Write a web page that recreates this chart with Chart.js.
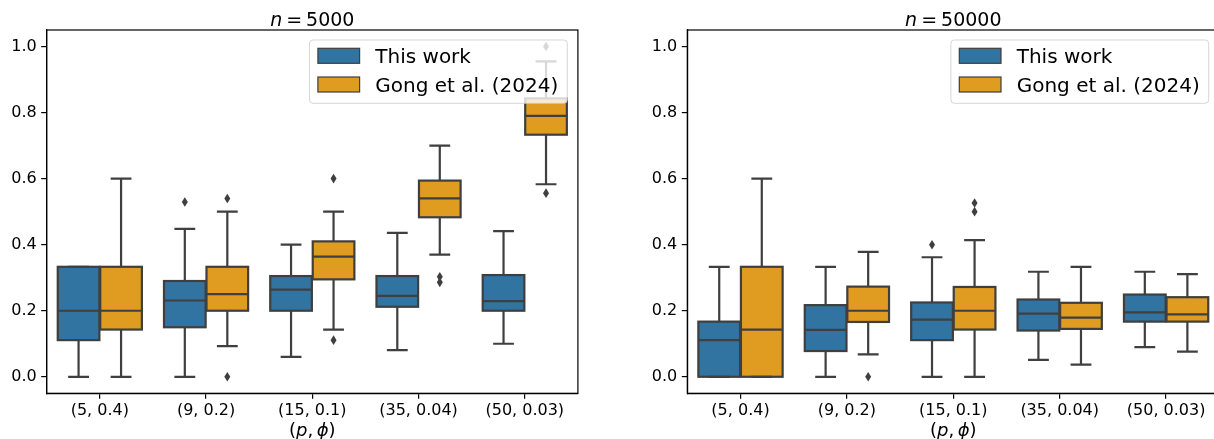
<!DOCTYPE html>
<html>
<head>
<meta charset="utf-8">
<script src="https://cdn.jsdelivr.net/npm/chart.js@4.4.1/dist/chart.umd.min.js"></script>
<style>
  html, body { margin: 0; padding: 0; background: #fff; }
  #page { position: relative; width: 1214px; height: 439px; overflow: hidden;
          font-family: "DejaVu Sans", sans-serif; color: #000; }
  .panel { position: absolute; top: 0; height: 439px; }
  .lbl { position: absolute; white-space: nowrap; transform: translateX(-50%);
         line-height: 1; font-family: "DejaVu Sans", sans-serif; color: #000; }
  .lbl i { font-style: italic; }
</style>
</head>
<body>
<div id="page">
  <div class="panel" style="left:0;width:614px"><canvas id="c5000" width="614" height="439"></canvas></div>
  <div class="panel" style="left:614px;width:620px"><canvas id="c50000" width="620" height="439"></canvas></div>

  <div class="lbl" style="left:312.3px;top:10px;font-size:19px"><i>n</i><span style="margin:0 4px">=</span>5000</div>
  <div class="lbl" style="left:953.3px;top:10px;font-size:19px"><i>n</i><span style="margin:0 4px">=</span>50000</div>
  <div class="lbl" style="left:312.3px;top:421px;font-size:18px">(<i>p</i>,&thinsp;<i>ϕ</i>)</div>
  <div class="lbl" style="left:953.3px;top:421px;font-size:18px">(<i>p</i>,&thinsp;<i>ϕ</i>)</div>
</div>

<script>
// (p, phi) settings on the x axis
const categories = ['(5, 0.4)', '(9, 0.2)', '(15, 0.1)', '(35, 0.04)', '(50, 0.03)'];
const yTicks = [0.0, 0.2, 0.4, 0.6, 0.8, 1.0];
const seriesNames = ['This work', 'Gong et al. (2024)'];

// Box statistics per setting: [lower whisker, Q1, median, Q3, upper whisker]
// n = 5000
const work5000 = [
  [0.000, 0.111, 0.200, 0.333, 0.333],
  [0.000, 0.150, 0.231, 0.290, 0.448],
  [0.060, 0.200, 0.264, 0.305, 0.400],
  [0.081, 0.212, 0.245, 0.305, 0.436],
  [0.100, 0.200, 0.229, 0.308, 0.441]
];
const gong5000 = [
  [0.000, 0.143, 0.200, 0.333, 0.600],
  [0.093, 0.200, 0.250, 0.333, 0.500],
  [0.143, 0.295, 0.364, 0.410, 0.500],
  [0.370, 0.483, 0.540, 0.594, 0.700],
  [0.583, 0.733, 0.790, 0.843, 0.955]
];
const workFliers5000 = [[], [0.529], [], [], []];
const gongFliers5000 = [[], [0.000, 0.540], [0.111, 0.600], [0.286, 0.303], [0.556, 1.000]];

// n = 50000
const work50000 = [
  [0.000, 0.000, 0.111, 0.167, 0.333],
  [0.000, 0.078, 0.142, 0.217, 0.333],
  [0.000, 0.111, 0.173, 0.225, 0.362],
  [0.051, 0.140, 0.191, 0.234, 0.318],
  [0.090, 0.167, 0.195, 0.249, 0.318]
];
const gong50000 = [
  [0.000, 0.000, 0.143, 0.333, 0.600],
  [0.068, 0.166, 0.200, 0.273, 0.378],
  [0.000, 0.143, 0.200, 0.272, 0.414],
  [0.037, 0.145, 0.179, 0.224, 0.333],
  [0.076, 0.167, 0.189, 0.241, 0.311]
];
const workFliers50000 = [[], [], [0.400], [], []];
const gongFliers50000 = [[], [0.000], [0.500, 0.526], [], []];

const COLORS = ['#3274a1', '#df9c20'];
const EDGE = '#3f3f3f';
const FONT = 'DejaVu Sans';
const LINE_W = 2.2;

// Box outlines, whiskers, caps, medians and fliers, placed from each bar element and the y scale
const boxDetails = {
  id: 'boxDetails',
  afterDatasetsDraw(chart) {
    const ctx = chart.ctx, ys = chart.scales.y;
    ctx.save();
    ctx.strokeStyle = EDGE;
    ctx.fillStyle = EDGE;
    ctx.lineWidth = LINE_W;
    ctx.lineCap = 'butt';
    ctx.lineJoin = 'miter';
    chart.data.datasets.forEach((ds, di) => {
      const meta = chart.getDatasetMeta(di);
      meta.data.forEach((bar, i) => {
        const [lo, q1, med, q3, hi] = ds.boxStats[i];
        const cx = bar.x, w = bar.width, cap = w / 4;
        const pLo = ys.getPixelForValue(lo), pQ1 = ys.getPixelForValue(q1);
        const pMed = ys.getPixelForValue(med), pQ3 = ys.getPixelForValue(q3);
        const pHi = ys.getPixelForValue(hi);
        ctx.beginPath();
        ctx.moveTo(cx, pQ1); ctx.lineTo(cx, pLo);
        ctx.moveTo(cx, pQ3); ctx.lineTo(cx, pHi);
        ctx.moveTo(cx - cap, pLo); ctx.lineTo(cx + cap, pLo);
        ctx.moveTo(cx - cap, pHi); ctx.lineTo(cx + cap, pHi);
        ctx.stroke();
        ctx.strokeRect(cx - w / 2, pQ3, w, pQ1 - pQ3);
        ctx.beginPath();
        ctx.moveTo(cx - w / 2, pMed); ctx.lineTo(cx + w / 2, pMed);
        ctx.stroke();
        ds.fliers[i].forEach(v => {
          const py = ys.getPixelForValue(v);
          ctx.beginPath();
          ctx.moveTo(cx, py - 4.8);
          ctx.lineTo(cx + 3, py);
          ctx.lineTo(cx, py + 4.8);
          ctx.lineTo(cx - 3, py);
          ctx.closePath();
          ctx.fill();
        });
      });
    });
    ctx.restore();
  }
};

// Axes frame plus a semi-transparent legend in the upper right corner
const frameAndLegend = {
  id: 'frameAndLegend',
  afterDraw(chart) {
    const ctx = chart.ctx, a = chart.chartArea;
    ctx.save();
    ctx.strokeStyle = '#000';
    ctx.lineWidth = 1.2;
    ctx.strokeRect(a.left, a.top, a.right - a.left, a.bottom - a.top);

    ctx.font = `20px "${FONT}"`;
    const labels = chart.data.datasets.map(d => d.label);
    const tw = Math.max(...labels.map(t => ctx.measureText(t).width));
    const padL = 8.4, patchW = 41.7, patchH = 15, gap = 15.7, padR = 9;
    const w = padL + patchW + gap + tw + padR, h = 63.3;
    const x0 = a.right - 10.6 - w, y0 = a.top + 10;
    const r = 3.5;
    ctx.beginPath();
    ctx.moveTo(x0 + r, y0);
    ctx.arcTo(x0 + w, y0, x0 + w, y0 + h, r);
    ctx.arcTo(x0 + w, y0 + h, x0, y0 + h, r);
    ctx.arcTo(x0, y0 + h, x0, y0, r);
    ctx.arcTo(x0, y0, x0 + w, y0, r);
    ctx.closePath();
    ctx.fillStyle = 'rgba(255,255,255,0.8)';
    ctx.fill();
    ctx.strokeStyle = 'rgba(204,204,204,0.8)';
    ctx.lineWidth = 1;
    ctx.stroke();

    const rows = [y0 + 15.8, y0 + 44.5];
    chart.data.datasets.forEach((ds, i) => {
      const cy = rows[i];
      ctx.fillStyle = ds.backgroundColor;
      ctx.fillRect(x0 + padL, cy - patchH / 2, patchW, patchH);
      ctx.strokeStyle = EDGE;
      ctx.lineWidth = 1.2;
      ctx.strokeRect(x0 + padL, cy - patchH / 2, patchW, patchH);
      ctx.fillStyle = '#000';
      ctx.textBaseline = 'alphabetic';
      ctx.textAlign = 'left';
      ctx.fillText(ds.label, x0 + padL + patchW + gap, cy + 7.3);
    });
    ctx.restore();
  }
};

function makePanel(canvasId, work, gong, workFliers, gongFliers, yAxisWidth, padRight) {
  const tickFont = { family: FONT, size: 16 };
  const axisGrid = { display: true, drawOnChartArea: false, drawTicks: true,
                     tickLength: 5.5, color: '#000', lineWidth: 1.2, offset: false };
  const makeSet = (label, stats, fliers, color) => ({
    label,
    data: stats.map(s => [s[1], s[3]]),
    boxStats: stats,
    fliers,
    backgroundColor: color,
    borderWidth: 0,
    borderSkipped: false,
    inflateAmount: 0,
    categoryPercentage: 0.8,
    barPercentage: 0.98
  });
  return new Chart(document.getElementById(canvasId), {
    type: 'bar',
    data: {
      labels: categories,
      datasets: [
        makeSet(seriesNames[0], work, workFliers, COLORS[0]),
        makeSet(seriesNames[1], gong, gongFliers, COLORS[1])
      ]
    },
    options: {
      responsive: false,
      animation: false,
      devicePixelRatio: 1,
      layout: { padding: { left: 0, right: padRight, top: 30, bottom: 0 } },
      plugins: { legend: { display: false }, tooltip: { enabled: false } },
      scales: {
        x: {
          type: 'category',
          offset: true,
          grid: axisGrid,
          border: { display: true, color: '#000', width: 1.2 },
          ticks: { font: tickFont, color: '#000', padding: 2, maxRotation: 0, autoSkip: false },
          afterFit(s) { s.height = 45.7; }
        },
        y: {
          min: -0.05,
          max: 1.05,
          grid: axisGrid,
          border: { display: true, color: '#000', width: 1.2 },
          ticks: { font: tickFont, color: '#000', padding: 4.5, callback: v => Number(v).toFixed(1) },
          afterBuildTicks(s) { s.ticks = yTicks.map(v => ({ value: v })); },
          afterFit(s) { s.width = yAxisWidth; }
        }
      }
    },
    plugins: [boxDetails, frameAndLegend]
  });
}

makePanel('c5000', work5000, gong5000, workFliers5000, gongFliers5000, 46.7, 614 - 577.9);
makePanel('c50000', work50000, gong50000, workFliers50000, gongFliers50000, 687.3 - 614, 620 - 605.3);
</script>
</body>
</html>
